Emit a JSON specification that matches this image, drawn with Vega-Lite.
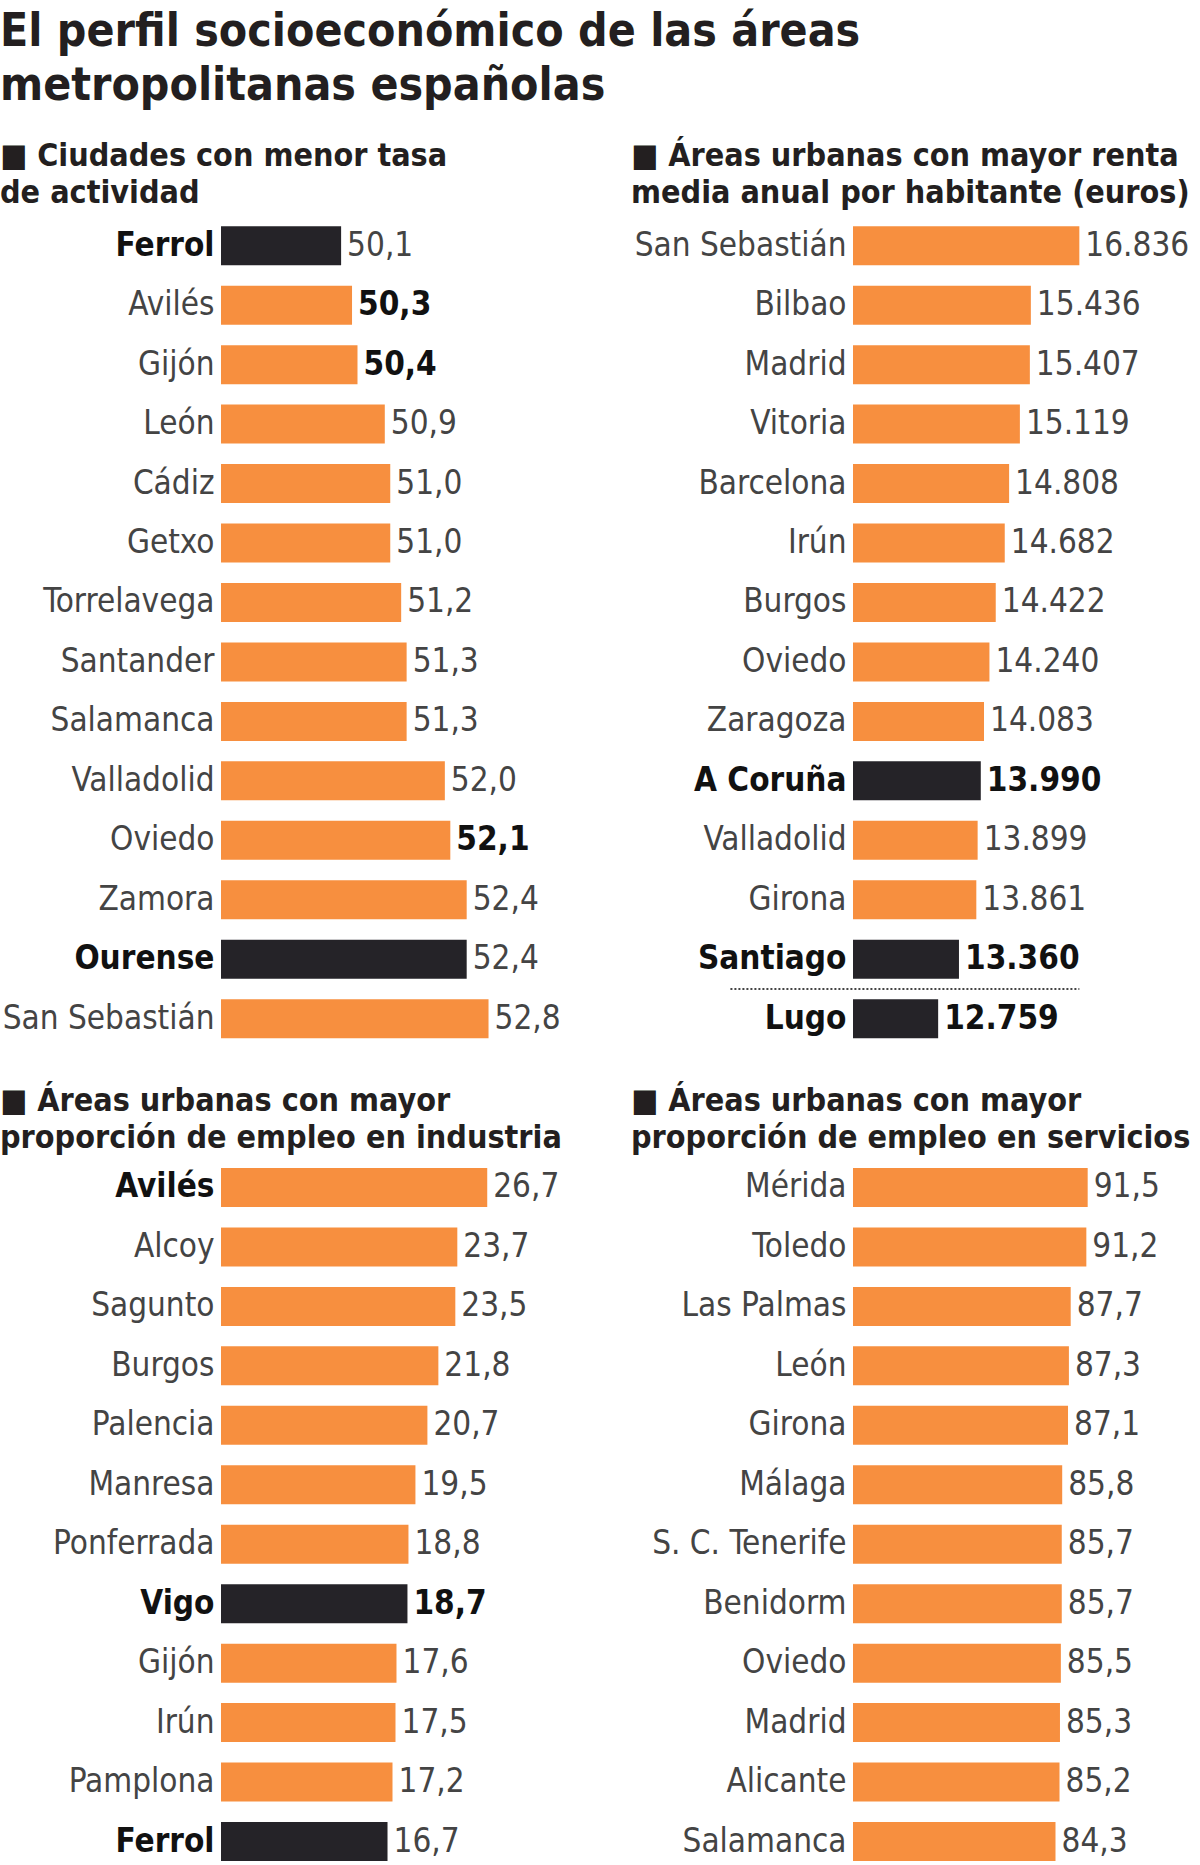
{
  "$schema": "https://vega.github.io/schema/vega-lite/v6.json",
  "padding": {"top": 9, "left": 0, "right": 0, "bottom": 0},
  "background": "white",
  "title": {
    "text": ["El perfil socioeconómico de las áreas", "metropolitanas españolas"],
    "anchor": "start",
    "frame": "bounds",
    "fontSize": 46,
    "fontWeight": "bold",
    "lineHeight": 54,
    "color": "#231f20",
    "offset": 30
  },
  "datasets": {
    "p1": [
      {"city": "Ferrol", "v": 50.1, "hl": 1, "vb": 0},
      {"city": "Avilés", "v": 50.3, "hl": 0, "vb": 1},
      {"city": "Gijón", "v": 50.4, "hl": 0, "vb": 1},
      {"city": "León", "v": 50.9, "hl": 0, "vb": 0},
      {"city": "Cádiz", "v": 51.0, "hl": 0, "vb": 0},
      {"city": "Getxo", "v": 51.0, "hl": 0, "vb": 0},
      {"city": "Torrelavega", "v": 51.2, "hl": 0, "vb": 0},
      {"city": "Santander", "v": 51.3, "hl": 0, "vb": 0},
      {"city": "Salamanca", "v": 51.3, "hl": 0, "vb": 0},
      {"city": "Valladolid", "v": 52.0, "hl": 0, "vb": 0},
      {"city": "Oviedo", "v": 52.1, "hl": 0, "vb": 1},
      {"city": "Zamora", "v": 52.4, "hl": 0, "vb": 0},
      {"city": "Ourense", "v": 52.4, "hl": 1, "vb": 0},
      {"city": "San Sebastián", "v": 52.8, "hl": 0, "vb": 0}
    ],
    "p2": [
      {"city": "San Sebastián", "v": 16836, "hl": 0, "vb": 0},
      {"city": "Bilbao", "v": 15436, "hl": 0, "vb": 0},
      {"city": "Madrid", "v": 15407, "hl": 0, "vb": 0},
      {"city": "Vitoria", "v": 15119, "hl": 0, "vb": 0},
      {"city": "Barcelona", "v": 14808, "hl": 0, "vb": 0},
      {"city": "Irún", "v": 14682, "hl": 0, "vb": 0},
      {"city": "Burgos", "v": 14422, "hl": 0, "vb": 0},
      {"city": "Oviedo", "v": 14240, "hl": 0, "vb": 0},
      {"city": "Zaragoza", "v": 14083, "hl": 0, "vb": 0},
      {"city": "A Coruña", "v": 13990, "hl": 1, "vb": 1},
      {"city": "Valladolid", "v": 13899, "hl": 0, "vb": 0},
      {"city": "Girona", "v": 13861, "hl": 0, "vb": 0},
      {"city": "Santiago", "v": 13360, "hl": 1, "vb": 1},
      {"city": "Lugo", "v": 12759, "hl": 1, "vb": 1}
    ],
    "p3": [
      {"city": "Avilés", "v": 26.7, "hl": 0, "vb": 0},
      {"city": "Alcoy", "v": 23.7, "hl": 0, "vb": 0},
      {"city": "Sagunto", "v": 23.5, "hl": 0, "vb": 0},
      {"city": "Burgos", "v": 21.8, "hl": 0, "vb": 0},
      {"city": "Palencia", "v": 20.7, "hl": 0, "vb": 0},
      {"city": "Manresa", "v": 19.5, "hl": 0, "vb": 0},
      {"city": "Ponferrada", "v": 18.8, "hl": 0, "vb": 0},
      {"city": "Vigo", "v": 18.7, "hl": 1, "vb": 1},
      {"city": "Gijón", "v": 17.6, "hl": 0, "vb": 0},
      {"city": "Irún", "v": 17.5, "hl": 0, "vb": 0},
      {"city": "Pamplona", "v": 17.2, "hl": 0, "vb": 0},
      {"city": "Ferrol", "v": 16.7, "hl": 1, "vb": 0}
    ],
    "p4": [
      {"city": "Mérida", "v": 91.5, "hl": 0, "vb": 0},
      {"city": "Toledo", "v": 91.2, "hl": 0, "vb": 0},
      {"city": "Las Palmas", "v": 87.7, "hl": 0, "vb": 0},
      {"city": "León", "v": 87.3, "hl": 0, "vb": 0},
      {"city": "Girona", "v": 87.1, "hl": 0, "vb": 0},
      {"city": "Málaga", "v": 85.8, "hl": 0, "vb": 0},
      {"city": "S. C. Tenerife", "v": 85.7, "hl": 0, "vb": 0},
      {"city": "Benidorm", "v": 85.7, "hl": 0, "vb": 0},
      {"city": "Oviedo", "v": 85.5, "hl": 0, "vb": 0},
      {"city": "Madrid", "v": 85.3, "hl": 0, "vb": 0},
      {"city": "Alicante", "v": 85.2, "hl": 0, "vb": 0},
      {"city": "Salamanca", "v": 84.3, "hl": 0, "vb": 0}
    ]
  },
  "columns": 2,
  "spacing": {"row": 36, "column": 30},
  "concat": [
    {
      "data": {"name": "p1"},
      "width": 380,
      "height": 832.4,
      "title": {"text": ["■ Ciudades con menor tasa", "de actividad"], "dx": -221},
      "encoding": {
        "y": {
          "field": "city", "type": "nominal", "sort": null,
          "scale": {"paddingInner": 0.344, "paddingOuter": 0.172},
          "axis": {
            "labelFontWeight": {"condition": {"test": "datum.value === 'Ferrol' || datum.value === 'Ourense'", "value": "bold"}, "value": "normal"},
            "labelColor": {"condition": {"test": "datum.value === 'Ferrol' || datum.value === 'Ourense'", "value": "#111111"}, "value": "#444444"}
          }
        },
        "x": {"field": "v", "type": "quantitative", "scale": {"domain": [47.9, 54.86], "zero": false, "nice": false}, "axis": null}
      },
      "layer": [
        {"mark": {"type": "bar"}, "encoding": {"x2": {"datum": 47.9}, "color": {"condition": {"test": "datum.hl == 1", "value": "#252328"}, "value": "#f78f3f"}}},
        {"mark": {"type": "text", "align": "left", "baseline": "middle", "dx": 6, "fontSize": 33, "fontWeight": {"expr": "datum.vb == 1 ? 'bold' : 'normal'"}},
         "encoding": {"text": {"field": "v", "type": "quantitative", "format": ".1f"}, "color": {"condition": {"test": "datum.vb == 1", "value": "#111111"}, "value": "#444444"}}}
      ]
    },
    {
      "data": {"name": "p2"},
      "width": 340,
      "height": 832.4,
      "title": {"text": ["■ Áreas urbanas con mayor renta", "media anual por habitante (euros)"], "dx": -222},
      "encoding": {
        "y": {
          "field": "city", "type": "nominal", "sort": null,
          "scale": {"paddingInner": 0.344, "paddingOuter": 0.172},
          "axis": {
            "labelFontWeight": {"condition": {"test": "datum.value === 'A Coruña' || datum.value === 'Santiago' || datum.value === 'Lugo'", "value": "bold"}, "value": "normal"},
            "labelColor": {"condition": {"test": "datum.value === 'A Coruña' || datum.value === 'Santiago' || datum.value === 'Lugo'", "value": "#111111"}, "value": "#444444"}
          }
        },
        "x": {"field": "v", "type": "quantitative", "scale": {"domain": [10300, 20118], "zero": false, "nice": false}, "axis": null}
      },
      "layer": [
        {"mark": {"type": "bar"}, "encoding": {"x2": {"datum": 10300}, "color": {"condition": {"test": "datum.hl == 1", "value": "#252328"}, "value": "#f78f3f"}}},
        {"mark": {"type": "text", "align": "left", "baseline": "middle", "dx": 6, "fontSize": 33, "fontWeight": {"expr": "datum.vb == 1 ? 'bold' : 'normal'"}},
         "encoding": {"text": {"field": "v", "type": "quantitative", "format": ",d"}, "color": {"condition": {"test": "datum.vb == 1", "value": "#111111"}, "value": "#444444"}}},
        {"transform": [{"filter": "datum.city === 'Lugo'"}],
         "mark": {"type": "rule", "strokeDash": [2, 2], "strokeWidth": 2, "color": "#444444"},
         "encoding": {"y": {"field": "city", "type": "nominal", "sort": null, "bandPosition": -0.26}, "x": {"datum": 6760}, "x2": {"datum": 16836}}}
      ]
    },
    {
      "data": {"name": "p3"},
      "width": 380,
      "height": 707,
      "title": {"text": ["■ Áreas urbanas con mayor", "proporción de empleo en industria"], "dx": -221},
      "encoding": {
        "y": {
          "field": "city", "type": "nominal", "sort": null,
          "scale": {"paddingInner": 0.344, "paddingOuter": 0.117},
          "axis": {
            "labelFontWeight": {"condition": {"test": "datum.value === 'Avilés' || datum.value === 'Vigo' || datum.value === 'Ferrol'", "value": "bold"}, "value": "normal"},
            "labelColor": {"condition": {"test": "datum.value === 'Avilés' || datum.value === 'Vigo' || datum.value === 'Ferrol'", "value": "#111111"}, "value": "#444444"}
          }
        },
        "x": {"field": "v", "type": "quantitative", "scale": {"domain": [0, 38.11], "nice": false}, "axis": null}
      },
      "layer": [
        {"mark": {"type": "bar"}, "encoding": {"color": {"condition": {"test": "datum.hl == 1", "value": "#252328"}, "value": "#f78f3f"}}},
        {"mark": {"type": "text", "align": "left", "baseline": "middle", "dx": 6, "fontSize": 33, "fontWeight": {"expr": "datum.vb == 1 ? 'bold' : 'normal'"}},
         "encoding": {"text": {"field": "v", "type": "quantitative", "format": ".1f"}, "color": {"condition": {"test": "datum.vb == 1", "value": "#111111"}, "value": "#444444"}}}
      ]
    },
    {
      "data": {"name": "p4"},
      "width": 340,
      "height": 707,
      "title": {"text": ["■ Áreas urbanas con mayor", "proporción de empleo en servicios"], "dx": -222},
      "encoding": {
        "y": {
          "field": "city", "type": "nominal", "sort": null,
          "scale": {"paddingInner": 0.344, "paddingOuter": 0.117},
          "axis": {"labelColor": "#444444"}
        },
        "x": {"field": "v", "type": "quantitative", "scale": {"domain": [39, 115.06], "zero": false, "nice": false}, "axis": null}
      },
      "layer": [
        {"mark": {"type": "bar"}, "encoding": {"x2": {"datum": 39}, "color": {"value": "#f78f3f"}}},
        {"mark": {"type": "text", "align": "left", "baseline": "middle", "dx": 6, "fontSize": 33, "color": "#444444"},
         "encoding": {"text": {"field": "v", "type": "quantitative", "format": ".1f"}}}
      ]
    }
  ],
  "config": {
    "font": "'DejaVu Sans Condensed', 'Roboto Condensed', 'Liberation Sans Narrow', Roboto, sans-serif",
    "view": {"stroke": null},
    "locale": {"number": {"decimal": ",", "thousands": ".", "grouping": [3], "currency": ["", " €"]}},
    "title": {"anchor": "start", "frame": "group", "fontSize": 32, "fontWeight": "bold", "lineHeight": 37, "color": "#231f20", "offset": 6},
    "axis": {
      "domain": false, "ticks": false, "title": null, "grid": false,
      "labelPadding": 7, "labelFontSize": 33, "labelLimit": 400,
      "minExtent": 221, "maxExtent": 221
    }
  }
}
